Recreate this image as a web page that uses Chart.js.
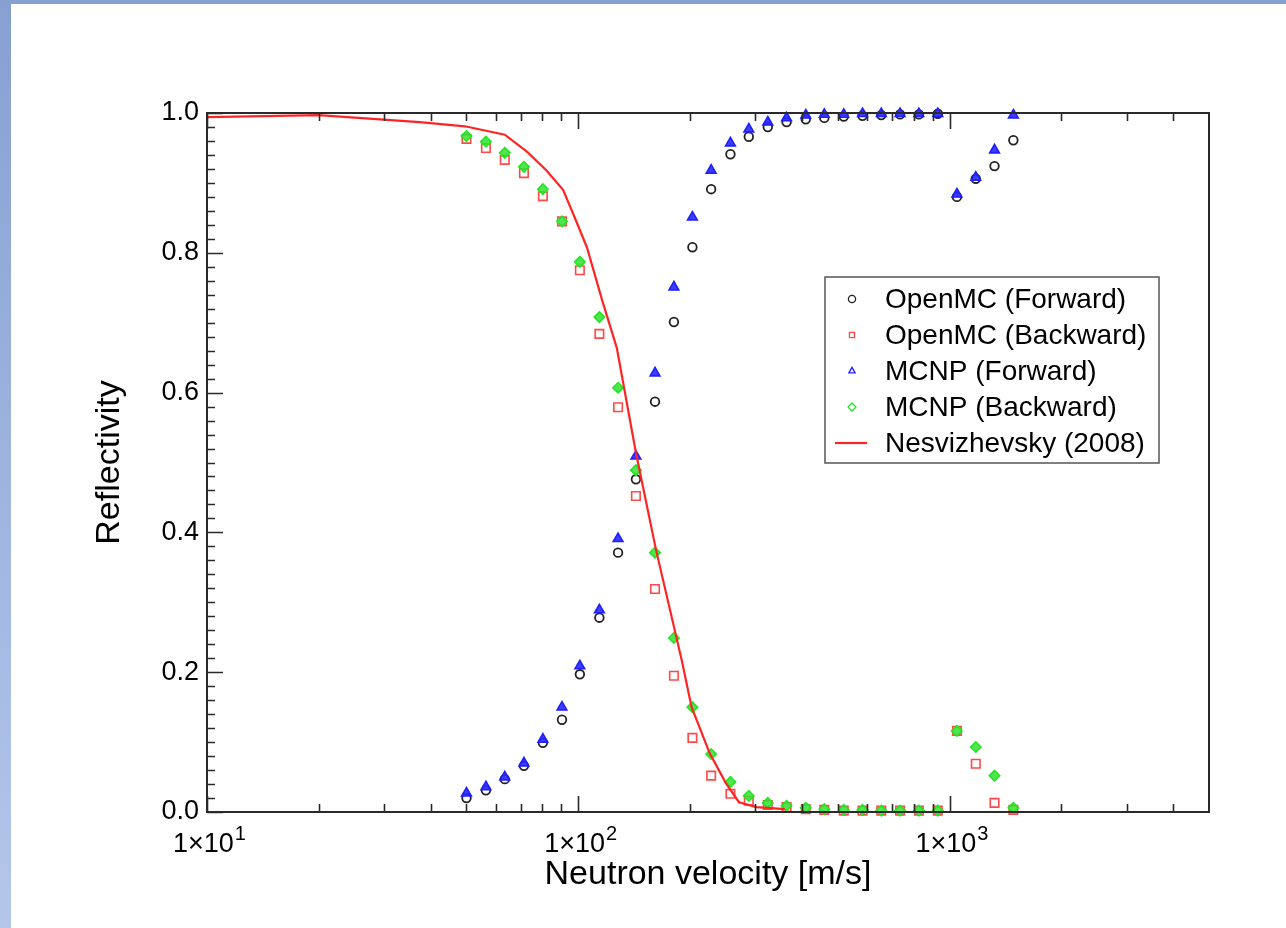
<!DOCTYPE html>
<html>
<head>
<meta charset="utf-8">
<script src="https://cdn.jsdelivr.net/npm/chart.js@4.4.1/dist/chart.umd.min.js"></script>
<style>
  html, body { margin: 0; padding: 0; }
  body {
    width: 1286px; height: 928px; overflow: hidden;
    background: linear-gradient(to bottom, #86a0d2, #b4c7ea);
    font-family: "Liberation Sans", Arial, sans-serif;
  }
  #panel { position: absolute; left: 11px; top: 4px; width: 1275px; height: 924px; background: #fff; }
  canvas { display: block; }
</style>
</head>
<body>
<div id="panel"><canvas id="reflectivity" width="1275" height="924"></canvas></div>
<script>
const FONT = '"Liberation Sans", Arial, sans-serif';

// simulated velocities (m/s)
const velocities = [50, 56.4, 63.4, 71.4, 80.3, 90.4, 101, 114, 128, 143, 161, 181, 203, 228, 257,
  288, 324, 364, 410, 460, 519, 583, 655, 736, 827, 930, 1047, 1177, 1322, 1486];

const openmcForward = [0.020, 0.031, 0.047, 0.066, 0.099, 0.132, 0.197, 0.278, 0.371, 0.476, 0.587, 0.701, 0.808, 0.891, 0.941,
  0.966, 0.980, 0.987, 0.991, 0.993, 0.995, 0.996, 0.997, 0.998, 0.998, 0.999, 0.880, 0.906, 0.924, 0.961];

const openmcBackward = [0.963, 0.950, 0.933, 0.914, 0.881, 0.845, 0.775, 0.684, 0.579, 0.452, 0.319, 0.195, 0.106, 0.052, 0.026,
  0.016, 0.010, 0.007, 0.004, 0.003, 0.002, 0.002, 0.002, 0.002, 0.002, 0.002, 0.116, 0.069, 0.013, 0.003];

const mcnpForward = [0.027, 0.036, 0.050, 0.070, 0.104, 0.150, 0.209, 0.289, 0.391, 0.509, 0.628, 0.751, 0.851, 0.918, 0.957,
  0.977, 0.987, 0.993, 0.997, 0.998, 0.998, 0.999, 0.999, 0.999, 0.999, 0.999, 0.884, 0.908, 0.947, 0.997];

const mcnpBackward = [0.967, 0.959, 0.943, 0.923, 0.891, 0.845, 0.787, 0.708, 0.607, 0.489, 0.371, 0.249, 0.150, 0.083, 0.043,
  0.023, 0.013, 0.009, 0.006, 0.004, 0.003, 0.003, 0.002, 0.002, 0.002, 0.002, 0.116, 0.093, 0.052, 0.006];

// Nesvizhevsky (2008) curve
const nesvVelocity = [10, 20, 37.4, 49.5, 63.4, 73, 82, 91, 96.7, 105.5, 116, 127, 143, 162, 190, 202, 226, 250, 271, 302, 360];
const nesvReflectivity = [0.994, 0.997, 0.987, 0.981, 0.969, 0.944, 0.918, 0.890, 0.857, 0.808, 0.732, 0.664, 0.514, 0.375,
  0.217, 0.150, 0.084, 0.041, 0.014, 0.007, 0.004];

// axis ticks
const xMajorTicks = [10, 100, 1000];
const xMinorTicks = [20, 30, 40, 50, 60, 70, 80, 90, 200, 300, 400, 500, 600, 700, 800, 900, 2000, 3000, 4000];
const yMajorTicks = [0, 0.2, 0.4, 0.6, 0.8, 1.0];

function toPoints(xs, ys) {
    return xs.map((x, i) => ({ x, y: ys[i] }));
}

const frameTicks = {
    id: 'frameTicks',
    afterDraw(chart) {
        const { ctx, chartArea: a } = chart;
        const xs = chart.scales.x;
        const ys = chart.scales.y;
        ctx.save();
        ctx.strokeStyle = '#2a2a2a';
        ctx.lineWidth = 2;
        ctx.strokeRect(a.left, a.top, a.right - a.left, a.bottom - a.top);

        ctx.lineWidth = 1.6;
        ctx.beginPath();
        const xTick = (v, len) => {
            const px = Math.round(xs.getPixelForValue(v)) + 0.5;
            ctx.moveTo(px, a.bottom); ctx.lineTo(px, a.bottom - len);
            ctx.moveTo(px, a.top); ctx.lineTo(px, a.top + len);
        };
        xMajorTicks.forEach(v => xTick(v, 16));
        xMinorTicks.forEach(v => xTick(v, 8));
        for (let i = 0; i <= 50; i++) {
            const v = i / 50;
            const py = Math.round(ys.getPixelForValue(v)) + 0.5;
            const len = i % 10 === 0 ? 16 : 8;
            ctx.moveTo(a.left, py); ctx.lineTo(a.left + len, py);
        }
        ctx.stroke();

        // x tick labels: 1x10^n with a real superscript
        ctx.fillStyle = '#000';
        ctx.textBaseline = 'alphabetic';
        ctx.textAlign = 'left';
        xMajorTicks.forEach(v => {
            const exp = String(Math.round(Math.log10(v)));
            const base = '1\u00d710';
            ctx.font = '27px ' + FONT;
            const w1 = ctx.measureText(base).width;
            ctx.font = '20px ' + FONT;
            const w2 = ctx.measureText(exp).width;
            const x0 = xs.getPixelForValue(v) - (w1 + w2) / 2 + 2;
            ctx.font = '27px ' + FONT;
            ctx.fillText(base, x0, a.bottom + 40);
            ctx.font = '20px ' + FONT;
            ctx.fillText(exp, x0 + w1 + 1, a.bottom + 28);
        });
        ctx.restore();
    }
};

const boxLegend = {
    id: 'boxLegend',
    afterDraw(chart) {
        const { ctx } = chart;
        const left = 814, top = 273, width = 334, height = 186;
        ctx.save();
        ctx.fillStyle = '#fff';
        ctx.fillRect(left, top, width, height);
        ctx.strokeStyle = '#555';
        ctx.lineWidth = 1.5;
        ctx.strokeRect(left, top, width, height);
        ctx.textBaseline = 'middle';
        ctx.textAlign = 'left';
        chart.data.datasets.forEach((ds, i) => {
            const y = top + 22 + i * 36;
            if (ds.showLine) {
                ctx.strokeStyle = ds.borderColor;
                ctx.lineWidth = 2.2;
                ctx.beginPath();
                ctx.moveTo(left + 10, y); ctx.lineTo(left + 42, y);
                ctx.stroke();
            } else {
                ctx.strokeStyle = ds.borderColor;
                ctx.fillStyle = 'rgba(0,0,0,0)';
                ctx.lineWidth = 1.3;
                Chart.helpers.drawPoint(ctx, {
                    pointStyle: ds.pointStyle,
                    radius: ds.pointStyle === 'rectRot' ? 4 : 3.6,
                    rotation: 0,
                    borderWidth: 1.3
                }, left + 27, y);
            }
            ctx.font = '28px ' + FONT;
            ctx.fillStyle = '#000';
            ctx.fillText(ds.label, left + 60, y + 1);
        });
        ctx.restore();
    }
};

const markerBase = { showLine: false, clip: 12 };

const data = {
    datasets: [
        {
            ...markerBase,
            label: 'OpenMC (Forward)',
            data: toPoints(velocities, openmcForward),
            pointStyle: 'circle',
            pointRadius: 4.3,
            pointBorderWidth: 1.8,
            borderColor: '#222',
            backgroundColor: 'rgba(0,0,0,0)',
            order: 4,
        },
        {
            ...markerBase,
            label: 'OpenMC (Backward)',
            data: toPoints(velocities, openmcBackward),
            pointStyle: 'rect',
            pointRadius: 6,
            pointBorderWidth: 1.6,
            borderColor: 'rgba(255,40,40,0.85)',
            backgroundColor: 'rgba(0,0,0,0)',
            order: 3,
        },
        {
            ...markerBase,
            label: 'MCNP (Forward)',
            data: toPoints(velocities, mcnpForward),
            pointStyle: 'triangle',
            pointRadius: 5.6,
            pointBorderWidth: 1.6,
            borderColor: '#1f1fff',
            backgroundColor: 'rgba(40,40,255,0.9)',
            order: 2,
        },
        {
            ...markerBase,
            label: 'MCNP (Backward)',
            data: toPoints(velocities, mcnpBackward),
            pointStyle: 'rectRot',
            pointRadius: 5.2,
            pointBorderWidth: 1.6,
            borderColor: '#22e622',
            backgroundColor: 'rgba(50,225,50,0.85)',
            order: 1,
        },
        {
            label: 'Nesvizhevsky (2008)',
            data: toPoints(nesvVelocity, nesvReflectivity),
            showLine: true,
            borderColor: '#ff2424',
            borderWidth: 2.2,
            pointRadius: 0,
            tension: 0,
            clip: 4,
            order: 0,
        },
    ],
};

const options = {
    responsive: false,
    animation: false,
    devicePixelRatio: 1,
    events: [],
    layout: { padding: { left: 0, top: 109, right: 77, bottom: 16 } },
    plugins: {
        legend: { display: false },
        tooltip: { enabled: false },
    },
    scales: {
        x: {
            type: 'logarithmic',
            min: 10,
            max: 5000,
            grid: { display: false },
            border: { display: false },
            ticks: { display: false },
            afterBuildTicks: (scale) => { scale.ticks = xMajorTicks.map(v => ({ value: v })); },
            afterFit: (scale) => { scale.height = 100; },
            title: {
                display: true,
                text: 'Neutron velocity [m/s]',
                color: '#000',
                font: { family: FONT, size: 34 },
                padding: { top: 0, bottom: 17 },
            },
        },
        y: {
            min: 0,
            max: 1,
            grid: { display: false },
            border: { display: false },
            afterBuildTicks: (scale) => { scale.ticks = yMajorTicks.map(v => ({ value: v })); },
            ticks: {
                color: '#000',
                padding: 0,
                font: { family: FONT, size: 27 },
                callback: (v) => Number(v).toFixed(1),
            },
            afterFit: (scale) => { scale.width = 196; },
            title: {
                display: true,
                text: 'Reflectivity',
                color: '#000',
                font: { family: FONT, size: 34 },
                padding: { top: 78, bottom: 0 },
            },
        },
    },
};

new Chart(document.getElementById('reflectivity'), {
    type: 'scatter',
    data,
    options,
    plugins: [frameTicks, boxLegend],
});
</script>
</body>
</html>
